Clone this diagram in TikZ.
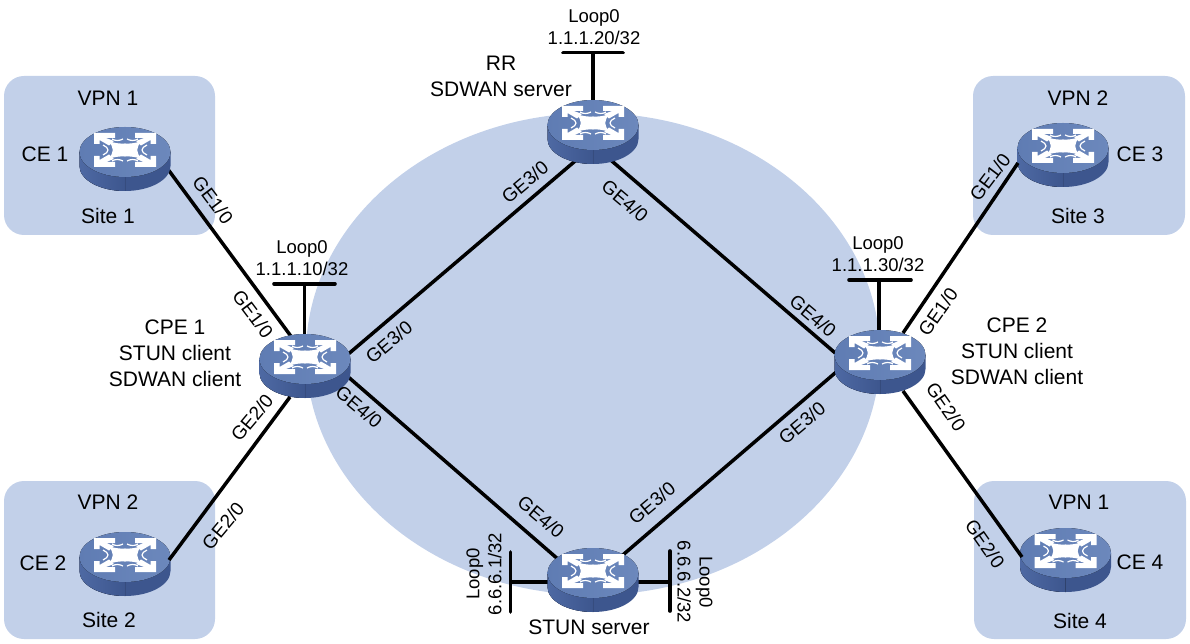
\documentclass[tikz,border=0pt]{standalone}
\usepackage{fontspec}
\setmainfont{Liberation Sans}
\definecolor{sitebg}{HTML}{C2D0E9}
\definecolor{rtop}{HTML}{6C88BC}
\definecolor{rtopd}{HTML}{5F7CB3}
\definecolor{rside}{HTML}{3D568E}
\definecolor{rsidel}{HTML}{4E69A3}
\tikzset{
  sitebox/.style={fill=sitebg,draw=none,rounded corners=20pt},
  lbl/.style={font=\fontsize{21}{26}\selectfont,inner sep=0pt,align=center,text=black},
  addr/.style={font=\fontsize{18.5}{22}\selectfont,inner sep=0pt,align=center,text=black},
  iflbl/.style={font=\fontsize{19}{22}\selectfont,inner sep=0pt,text=black},
  link/.style={line width=3.5pt,draw=black},
  bar/.style={line width=3.6pt,draw=black,line cap=round},
  rnode/.style={minimum width=92pt,minimum height=64pt,inner sep=0pt,draw=none,fill=none},
  pics/router/.style={code={
    \fill[rside] (-45.5,-7) -- (-45.5,7) arc[start angle=180,end angle=0,x radius=45.5,y radius=25] -- (45.5,-7) -- cycle;
    \fill[left color=rsidel,right color=rside] (-45.5,-7) -- (-45.5,7) arc[start angle=180,end angle=90,x radius=45.5,y radius=25] -- (0,-7) -- cycle;
    \fill[left color=rtopd,right color=rtop] (0,-7) ellipse[x radius=45.5,y radius=25];
    \foreach \sx in {1,-1}{\foreach \sy in {1,-1}{
      \fill[white,shift={(0,-9)},xscale=\sx,yscale=\sy]
        (-31,-17) -- (-10,-17) -- (-10,-12) -- (-19,-12) -- (-11,-9) -- (-16,-4.5) -- (-25.5,-10) -- (-25.5,-6) -- (-31,-6) -- cycle;
      \fill[white,shift={(0,-9)},xscale=\sx,yscale=\sy]
        (-17,-9) .. controls (-11,-7) and (-5,-6) .. (0.6,-6.5) -- (0.6,0.6) -- (-12,0.6) .. controls (-12,-3) and (-14,-6) .. cycle;
      \draw[white,line width=1.2pt,shift={(0,-9)},xscale=\sx,yscale=\sy]
        (-13,-11) .. controls (-9,-8.5) and (-5,-9.5) .. (-2,-11);
      \draw[white,line width=1.2pt,shift={(0,-9)},xscale=\sx,yscale=\sy]
        (-22,-5) .. controls (-19,-3.5) and (-17,-2) .. (-17,0);
    }}
  }}
}
\begin{document}
\begin{tikzpicture}[x=1pt,y=-1pt]
\useasboundingbox (0,0) rectangle (1190,644);
% backgrounds
\fill[sitebg] (593,354) ellipse[x radius=287,y radius=241];
\path[sitebox] (4,76) rectangle (215,235);
\path[sitebox] (4,481) rectangle (215,639);
\path[sitebox] (973,76) rectangle (1185,235);
\path[sitebox] (974,481) rectangle (1186,639);
% router anchors
\node[rnode] (ce1) at (125,159) {};
\node[rnode] (ce2) at (125,564) {};
\node[rnode] (ce3) at (1063,155) {};
\node[rnode] (ce4) at (1065.5,560) {};
\node[rnode] (cpe1) at (305,366) {};
\node[rnode] (cpe2) at (880,362) {};
\node[rnode] (rr) at (593,132) {};
\node[rnode] (stun) at (593,580) {};
% loop bars
\coordinate (l1m) at (304.5,283.7); \coordinate (l1a) at (274,283.7); \coordinate (l1b) at (335,283.7);
\coordinate (l2m) at (879,280); \coordinate (l2a) at (849,280); \coordinate (l2b) at (911,280);
\coordinate (l3m) at (593,52.7); \coordinate (l3a) at (563,52.7); \coordinate (l3b) at (623,52.7);
\coordinate (l4m) at (510.5,582); \coordinate (l4a) at (510.5,552); \coordinate (l4b) at (510.5,612);
\coordinate (l5m) at (670,582); \coordinate (l5a) at (670,551); \coordinate (l5b) at (670,611);
% links under routers
\draw[link] ([shift={(41,7.6)}]ce1.center) -- ([shift={(-12,-27)}]cpe1.center);
\draw[link] ([shift={(41,-10)}]cpe1.center) -- ([shift={(-15,26.6)}]rr.center);
\draw[link] ([shift={(41,9)}]cpe1.center) -- ([shift={(-34,-20)}]stun.center);
\draw[link] ([shift={(16,26.6)}]rr.center) -- ([shift={(-42,-6.6)}]cpe2.center);
\draw[link] ([shift={(-41,7.6)}]cpe2.center) -- ([shift={(27,-22.6)}]stun.center);
\draw[link] (l1m) -- (l1m |- cpe1.center);
\draw[link] (l2m) -- (l2m |- cpe2.center);
\draw[link] (l3m) -- (rr.center);
\draw[link] (l4m) -- (l4m -| stun.center);
\draw[link] (l5m) -- (l5m -| stun.center);
\draw[bar] (l1a) -- (l1b);
\draw[bar] (l2a) -- (l2b);
\draw[bar] (l3a) -- (l3b);
\draw[bar] (l4a) -- (l4b);
\draw[bar] (l5a) -- (l5b);
% routers
\foreach \p in {ce1,ce2,ce3,ce4,cpe1,cpe2,rr,stun}
  \pic at (\p.center) {router};
% links over routers
\draw[link] ([shift={(44,-4)}]ce2.center) -- ([shift={(-15,31)}]cpe1.center);
\draw[link] ([shift={(23,-29)}]cpe2.center) -- ([shift={(-45,8)}]ce3.center);
\draw[link] ([shift={(23,29)}]cpe2.center) -- ([shift={(-43.5,-3)}]ce4.center);
% text
\node[lbl] (t1) at (108,98) {VPN 1};
\node[lbl] (t2) at (45,154) {CE 1};
\node[lbl] (t3) at (108,216) {Site 1};
\node[lbl] (t4) at (108,502) {VPN 2};
\node[lbl] (t5) at (43,563) {CE 2};
\node[lbl] (t6) at (109,620) {Site 2};
\node[lbl] (t7) at (1078,98) {VPN 2};
\node[lbl] (t8) at (1140,154) {CE 3};
\node[lbl] (t9) at (1078,216) {Site 3};
\node[lbl] (t10) at (1079,502) {VPN 1};
\node[lbl] (t11) at (1140,562) {CE 4};
\node[lbl] (t12) at (1080,621) {Site 4};
\node[addr] (t13) at (594,27) {Loop0\\1.1.1.20/32};
\node[lbl] (t14) at (501,76) {RR\\SDWAN server};
\node[addr] (t15) at (302,258) {Loop0\\1.1.1.10/32};
\node[addr] (t16) at (878,254) {Loop0\\1.1.1.30/32};
\node[lbl] (t17) at (175,353) {CPE 1\\STUN client\\SDWAN client};
\node[lbl] (t18) at (1017,351) {CPE 2\\STUN client\\SDWAN client};
\node[lbl] (t19) at (589,627) {STUN server};
\node[addr,rotate=90] (t20) at (484,574) {Loop0\\6.6.6.1/32};
\node[addr,rotate=-90] (t21) at (695,582) {Loop0\\6.6.6.2/32};
\node[iflbl,rotate=-53] (g1) at (213,200) {GE1/0};
\node[iflbl,rotate=-53] (g2) at (253,314) {GE1/0};
\node[iflbl,rotate=50] (g3) at (252,418) {GE2/0};
\node[iflbl,rotate=50] (g4) at (223,526) {GE2/0};
\node[iflbl,rotate=40] (g5) at (389,342) {GE3/0};
\node[iflbl,rotate=40] (g6) at (525,182) {GE3/0};
\node[iflbl,rotate=-40] (g7) at (359,407) {GE4/0};
\node[iflbl,rotate=-40] (g8) at (541,517) {GE4/0};
\node[iflbl,rotate=-40] (g9) at (625,201) {GE4/0};
\node[iflbl,rotate=-40] (g10) at (813,316) {GE4/0};
\node[iflbl,rotate=40] (g11) at (652,503) {GE3/0};
\node[iflbl,rotate=40] (g12) at (802,423) {GE3/0};
\node[iflbl,rotate=55] (g13) at (938,312) {GE1/0};
\node[iflbl,rotate=53] (g14) at (990,177) {GE1/0};
\node[iflbl,rotate=-55] (g15) at (946,407) {GE2/0};
\node[iflbl,rotate=-55] (g16) at (985,544) {GE2/0};
\end{tikzpicture}
\end{document}
